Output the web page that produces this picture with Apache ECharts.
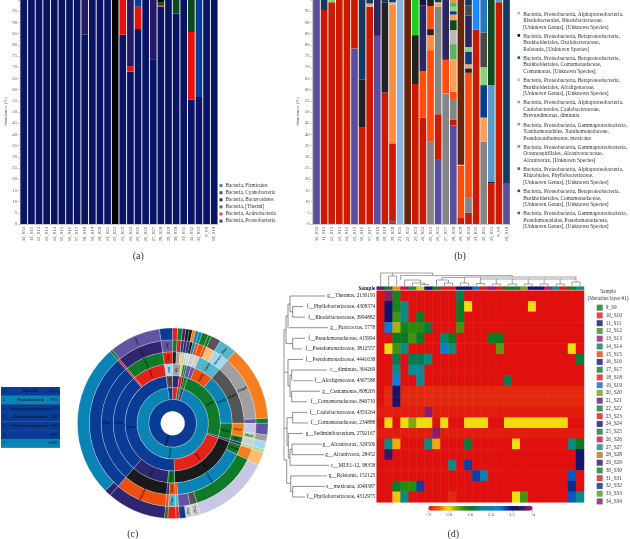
<!DOCTYPE html>
<html><head><meta charset="utf-8">
<style>html,body{margin:0;padding:0;background:#fff}#c{width:630px;height:539px}</style>
<script src="https://cdn.jsdelivr.net/npm/echarts@6/dist/echarts.min.js"></script>
</head><body><div id="c"></div>
<script>
const SERIF='"Liberation Serif",serif';
const samples=['34_S34','11_S11','12_S12','13_S13','14_S14','15_S15','16_S16','17_S17','18_S18','19_S19','20_S20','21_S21','22_S22','23_S23','24_S24','25_S25','26_S26','27_S27','28_S28','29_S29','30_S30','31_S31','32_S32','33_S33','9_S9','10_S10'];

// (a) phylum colours and stacks, bottom to top
const colorsA={p:'#0a1464',a:'#e8100c',t:'#0f4a1c',b:'#000000',c:'#241a66',f:'#0a3e96'};
const legendA=[['Bacteria, Firmicutes','#1a5fb4'],['Bacteria, Cyanobacteria','#1c1c70'],['Bacteria, Bacteroidetes','#000000'],['Bacteria, [Thermi]','#1a5c1a'],['Bacteria, Actinobacteria','#e8100c'],['Bacteria, Proteobacteria','#0a1464']];
const stacksA=[[['p',100]],[['p',100]],[['p',100]],[['p',100]],[['p',100]],[['p',100]],[['p',100]],[['p',100]],[['p',84.5],['c',15.5]],[['p',100]],[['p',100]],[['p',100]],[['b',100]],[['p',84.5],['a',15.5]],[['p',68],['a',2.5],['c',29.5]],[['p',87],['a',10],['f',3]],[['p',100]],[['p',73.5],['c',26.5]],[['p',97],['a',0.6],['t',1.4],['b',1]],[['p',100]],[['p',94],['t',6]],[['p',100]],[['p',55.5],['a',30.2],['t',14.3]],[['p',56.7],['f',43.3]],[['p',100]],[['p',100]]];

// (b) stacks, bottom to top
const colorsB={pu:'#5a4e9e',re:'#cc1a00',gy:'#858585',ta:'#f9a05a',ox:'#ff4d0d',or:'#ff8c3c',nv:'#163a5f',bk:'#222222',dp:'#2e2660',br:'#6b2408',lb:'#8fb4e0',gn:'#22cc22',bl:'#0a3c8c',bb:'#1a8cff',sb:'#2a78c0',lg:'#8fd080',dg:'#484848',sk:'#5a9ac8',fg:'#0f4a1c',lgy:'#b8b8b8',mg:'#5fb060',kk:'#14143c'};
const stacksB=[
[['pu',100]],[['re',95.5],['nv',4.5]],[['pu',.5],['re',98.5],['lg',1]],[['re',100]],[['re',100]],[['pu',78.4],['re',21.6]],
[['re',43],['bk',21.4],['nv',35.6]],[['re',97],['ta',1],['gy',.5],['nv',1.5]],[['pu',84],['dp',16]],[['re',58.7],['bk',40.3],['nv',1]],
[['pu',1],['re',35],['or',62],['lgy',1],['nv',1]],[['lb',100]],[['br',100]],[['re',62.5],['bk',21.8],['gn',15.7]],[['re',47.5],['ox',20.8],['dp',29.2],['kk',2.5]],
[['gy',36.7],['ox',40.9],['or',6.7],['bk',2.7],['ox',10.3],['bk',2.7]],[['pu',29],['re',20],['gy',48],['ta',1.5],['lg',.5],['nv',1]],[['gy',58.3],['ox',15],['dp',26.7]],
[['pu',44],['re',2.5],['gy',9.3],['ox',3.2],['ta',14.5],['mg',6.8],['lgy',6.3],['fg',4.4],['ta',2.5],['bl',1.5],['lg',2],['mg',2],['or',1]],
[['re',3],['ox',23],['lg',.5],['br',73.5]],[['re',5],['gy',7],['ox',55.5],['bk',2],['ta',1.8],['bl',5.7],['lg',2],['dp',14],['dg',4.5],['nv',2.5]],
[['re',86.7],['bb',13.3]],[['gy',36.7],['ta',10.8],['bl',14.5],['lg',8],['dg',15.5],['sb',14.5]],[['re',18],['bk',1],['sk',43],['fg',38]],[['re',99],['sk',1]],[['pu',18],['nv',82]]];
const legendB=[
['#f4a460','Bacteria, Proteobacteria, Alphaproteobacteria,\nRhodobacterales, Rhodobacteraceae,\n[Unknown Genus], [Unknown Species]'],
['#111111','Bacteria, Proteobacteria, Betaproteobacteria,\nBurkholderiales, Oxalobacteraceae,\nRalstonia, [Unknown Species]'],
['#0a7a28','Bacteria, Proteobacteria, Betaproteobacteria,\nBurkholderiales, Comamonadaceae,\nComamonas, [Unknown Species]'],
['#bbbbbb','Bacteria, Proteobacteria, Betaproteobacteria,\nBurkholderiales, Alcaligenaceae,\n[Unknown Genus], [Unknown Species]'],
['#7ac070','Bacteria, Proteobacteria, Alphaproteobacteria,\nCaulobacterales, Caulobacteraceae,\nBrevundimonas, diminuta'],
['#f58020','Bacteria, Proteobacteria, Gammaproteobacteria,\nXanthomonadales, Xanthomonadaceae,\nPseudoxanthomonas, mexicana'],
['#ff6a20','Bacteria, Proteobacteria, Gammaproteobacteria,\nOceanospirillales, Alcanivoracaceae,\nAlcanivorax, [Unknown Species]'],
['#666666','Bacteria, Proteobacteria, Alphaproteobacteria,\nRhizobiales, Phyllobacteriaceae,\n[Unknown Genus], [Unknown Species]'],
['#e01010','Bacteria, Proteobacteria, Betaproteobacteria,\nBurkholderiales, Comamonadaceae,\n[Unknown Genus], [Unknown Species]'],
['#5a4e9e','Bacteria, Proteobacteria, Gammaproteobacteria,\nPseudomonadales, Pseudomonadaceae,\n[Unknown Genus], [Unknown Species]']];

// (c) sunburst colours; leaf rows: degrees, then ring 2..7 as colour:label
const colorsC={N:'#0a3c96',T:'#0a84b4',G:'#0f7a28',R:'#e2231a',K:'#1a1a1a',P:'#2e2670',V:'#6353a3',O:'#f57f1e',A:'#ffbf6e',X:'#ee4e10',D:'#555555',S:'#a0a0a0',L:'#a3d9f0',C:'#55b5cc',W:'#c8c8e6',Y:'#d0d0d0',E:'#a8dca0'};
const PR='T:Proteo',AL='G:Alpha',BE='R:Beta',GA='N:Gam',PS='N:Pseu';
const wedges=[
[4,PR,AL,'V','Y','X','G'],[2,PR,AL,'X:Caulo','C:Caulo','X','G'],[6,PR,AL,'X:Caulo','C:Caulo','A','D'],[11,PR,AL,'X:Caulo','C:Caulo','L:Brevun','C:Brev'],
[46,PR,AL,'T:Rhodo','D:Rhodo','S:Phygel','O'],[3,PR,AL,'T:Rhodo','D:Rhodo','V','G'],[7,PR,AL,'G:Rhizo','O:Phyll','W','V'],[4,PR,AL,'G:Rhizo','O:Phyll','E:Meso','S'],
[3,PR,AL,'G:Rhizo','G:Bre','Y','L'],[2,PR,AL,'G:Rhizo','G:Bre','Y','L'],[2,PR,'P','P','P','E','E'],
[8,PR,BE,'K:Burk','G:Comam','O','A'],[47,PR,BE,'K:Burk','T:Comam','G','W'],[5,PR,BE,'K:Burk','T:Comam','D','Y:Cupr'],[4,PR,BE,'K:Burk','T:Comam','V','Y:Cupr'],[4,PR,BE,'K:Burk','T:Comam','V','N'],[2,PR,BE,'K:Burk','X:Oxal','C:Pseu','R'],
[5,PR,GA,'G:Ocean','X:Oxal','C:Pseu','R'],[2,PR,GA,'G:Ocean','P','X','G'],[36,PR,GA,'P:Xant','K:Xant','X:Pseudox','P'],[4,PR,GA,PS,PS,'N','P'],[94,PR,GA,PS,PS,'N','T'],
[1.5,PR,GA,'R','R','R','G'],[31.5,PR,GA,'R:Pseu','G:Gamma','P:Xant','V:Pseu'],[8,'N','D:Desu','L:Xan','R:Gry','V:Xan','N'],
[3,'R','P','S:Alc','K','G','R'],[3,'R','P','S:Alc','S','R','G'],[2,'R','P','S:Alc','A','N','P'],[2,'G','R','A','E','P','K'],[2,'G','R','G','Y','P','K'],[2,'K','K','G','Y','K','O'],[2,'P','G','V','Y','T','T'],[2,'P','G','V','Y','X','T']];
const lineageRows=[['1','Bacteria','100%'],['2','Proteobacteria','91%'],['3','Gammaproteobacteria','57%'],['4','Pseudomonadales','38%'],['5','Pseudomonadaceae','38%'],['6','','38%'],['7','','100%']];
const lineageColors=['#0a3c96','#0a84b4','#0a3c96','#0a3c96','#0a3c96','#0a3c96','#0a84b4'];

// (d) heat map
const heatRowLabels=['g__Thermus, 2130193','f__Phyllobacteriaceae, 4308374','f__Rhodobacteraceae, 3994882','g__Paracoccus, 5778','f__Pseudomonadaceae, 415994','f__Pseudomonadaceae, 3812557','f__Pseudomonadaceae, 4441638','c__diminuta, 364269','f__Alcaligenaceae, 4367588','g__Comamonas, 808203','f__Comamonadaceae, 846710','f__Caulobacteraceae, 4353264','f__Comamonadaceae, 234888','g__Sediminibacterium, 2792167','g__Alcanivorax, 329506','g__Alcanivorax, 28452','c__MLE1-12, 98358','g__Ralstonia, 152125','s__mexicana, 1049387','f__Phyllobacteriaceae, 4312975'];
const heatValues=[
[0,3.9,1.5,0,0,0,0,0,0,0,1.8,0,0,0,0,0,0,0,0,0,0,0,0,0,0,0],
[0,3.2,1.5,2,0,0,0,0,0,0,1.6,.8,0,0,0,0,0,0,0,.8,0,0,0,0,0,0],
[0,3.2,1.3,2,0,1.6,0,0,0,0,1.6,0,0,0,0,0,0,0,0,0,0,0,0,0,0,0],
[0,2.7,1,1.5,1.4,1.4,1.7,0,0,0,1.3,0,0,0,0,0,0,0,0,0,0,0,0,0,0,0],
[0,0,1.6,1.6,1.3,1.6,0,0,1.9,1.6,0,0,0,0,1.6,1.6,0,0,0,0,0,0,0,0,0,0],
[0,.8,1.3,2,0,0,0,0,2.5,2,0,0,0,0,0,1.2,0,0,0,0,0,0,0,0,.8,0],
[0,0,1.8,0,1.8,1.8,2,0,0,0,0,0,0,0,0,0,0,0,0,0,0,0,0,0,0,1.7],
[0,0,2.1,0,2.1,2.2,0,0,0,0,0,0,0,0,0,0,0,0,0,0,0,0,0,0,0,0],
[0,0,2.6,0,0,2.2,0,0,0,0,0,0,0,0,0,0,1.8,0,0,0,0,0,0,0,0,0],
[0,.1,3.3,.1,.1,.1,.1,.1,.1,.1,.1,.1,.1,.1,.1,.1,.1,.1,.1,.1,.1,.1,.1,.1,.1,.1],
[0,.1,3.3,.1,.1,.1,.1,.1,.1,.1,.1,.1,.1,.1,.1,.1,.1,.1,.1,.1,.1,.1,.1,.1,.1,.1],
[.05,.05,.05,.05,.05,.05,3.9,.05,.05,.05,.05,.05,.05,.05,.05,.05,.05,.05,.05,.05,.05,.05,.05,.05,.05,.05],
[0,.8,0,.8,1.1,.8,.8,0,.8,0,0,.8,.8,.8,0,0,.8,.8,.8,.8,.8,.8,.8,.8,0,0],
[.05,.05,.05,.05,.05,.05,.05,3.9,.05,.05,.05,.05,.05,.05,.05,.05,.05,.05,.05,.05,.05,.05,.05,.05,.05,.05],
[0,2,.6,0,0,0,2,.6,0,0,0,1.7,0,0,0,0,0,.8,0,0,0,0,0,0,2,1.6],
[0,3.6,0,0,0,0,0,0,0,0,0,0,0,0,0,0,0,0,0,0,0,0,0,0,0,3.3],
[0,0,0,0,0,0,0,0,0,2,0,3,0,0,0,0,0,0,0,0,0,0,0,0,0,3.3],
[0,0,0,0,0,0,0,0,0,0,0,0,3,2.4,0,0,0,0,0,0,0,0,0,0,2.9,0],
[0,0,1.6,1.4,1.4,3,0,0,0,0,0,0,0,0,0,0,0,0,0,0,0,0,0,0,3.1,0],
[0,0,.7,2,0,0,0,0,0,.1,0,0,0,0,0,0,0,.8,1.3,0,0,0,0,0,2.9,2.1]];
const heatColors=['#e0100f','#e8400c','#ee5a08','#f5a80a','#f2dc0c','#a8b010','#5e9a10','#2a8a10','#0a7a24','#0a7a50','#0a8a80','#0a8a98','#0a80b0','#0a80e0','#0a70d8','#0a40a0','#10146a','#201468','#3a1466','#7a1a68','#a0206a'];
const stripColors=['#551a78','#0f7a28','#f08a10','#d0104f','#0f8a40','#d8d010','#14146e','#0f7a28','#d91a1a','#d91a1a','#14146e','#14146e','#1068c0','#d91a1a','#8a1a78','#d91a1a','#0f7a28','#0f7a28','#7a9a10','#14146e','#14146e','#b01a70','#0f8a80','#d91a1a','#0f7a28','#0f8a80'];
const legendD=[['9_S9','#0f7a28'],['10_S10','#d91a1a'],['11_S11','#14146e'],['12_S12','#3b8f10'],['13_S13','#9a1a70'],['14_S14','#0d7a5f'],['15_S15','#d84a10'],['16_S16','#14146e'],['17_S17','#0f7a28'],['18_S18','#d91a1a'],['19_S19','#1068c0'],['20_S20','#7a9a10'],['21_S21','#551a78'],['22_S22','#0f7a28'],['23_S23','#d91a1a'],['24_S24','#14146e'],['25_S25','#0f7a28'],['26_S26','#d0104f'],['27_S27','#0f8a80'],['28_S28','#b8700a'],['29_S29','#2a1060'],['30_S30','#0f7a28'],['31_S31','#d91a1a'],['32_S32','#0a2880'],['33_S33','#4a9a10'],['34_S34','#7a1a70']];
const colorbarTicks={0:'<0',4:'>4'};
// row tree: [dist1,row1,dist2,row2,heavy]
const rowTree=[[20,.5,55,.5],[22.7,1.5,33,1.5],[22.7,2.5,35,2.5],[22.7,1.5,22.7,2.5],[20,2,22.7,2],[20,.5,20,2],[18,1.25,20,1.25],[19,3.5,58,3.5],[18,1.25,18,3.5],[16,2.4,18,2.4],
[22.7,4.5,35,4.5],[22.7,5.5,32,5.5],[22.7,4.5,22.7,5.5],[16,5,22.7,5],[16,2.4,16,5],[14,3.7,16,3.7],[14,3.7,14,6.4],
[18,6.5,33,6.5],[21.7,7.5,57,7.5],[24,8.5,43,8.5,1],[21.7,7.5,21.7,8.5],[21.7,9.5,50,9.5],[21.7,10.5,37,10.5],[21.7,9.5,21.7,10.5],[20,8,21.7,8],[20,10,21.7,10],[20,8,20,10],[18,9,20,9],[18,6.5,18,9],[14,7.7,18,7.7],
[22.7,11.5,37,11.5],[22.7,12.5,38,12.5],[22.7,11.5,22.7,12.5],[17,12,22.7,12],[18.3,13.5,33,13.5],[22,14.5,52,14.5],[22,15.5,54,15.5],[22,14.5,22,15.5],[20,15,22,15],[20,16.5,59,16.5],[20,15,20,16.5],[18.3,15.8,20,15.8],[18.3,13.5,18.3,15.8],[17,14.6,18.3,14.6],[17,12,17,14.6],[14,13,17,13],[14,6.4,14,16,1],
[20.7,17.5,57,17.5,1],[22.7,18.5,55,18.5],[22.7,19.5,35,19.5],[22.7,18.5,22.7,19.5],[20.7,19,22.7,19],[20.7,17.5,20.7,19],[16.7,18.2,20.7,18.2],[16.7,16,16.7,18.2],[14,16,16.7,16]];
// column tree: [col1,height1,col2,height2,heavy]
const colTree=[[.5,3,7,3],[.5,3,.5,16,1],[2,3,2,6],[1.5,6,2.5,6],[1.5,6,1.5,16],[2.5,6,2.5,16],[7,3,7,5.5],[3,5.5,17,5.5,1],[3,5.5,3,10],[3.5,10,5.5,10],[3.5,10,3.5,16],[5.5,10,5.5,13],[4.5,13,6,13],[4.5,13,4.5,16],[6,13,6,14.5],[5.5,14.5,6.5,14.5],[5.5,14.5,5.5,16],[6.5,14.5,6.5,16],
[17,5.5,17,7],[7.5,10,9,10],[7.5,10,7.5,16],[9,10,9,13],[8.5,13,9.5,13],[8.5,13,8.5,16],[9.5,13,9.5,16],[8.2,7.5,8.2,10],[8.2,7.5,11,7.5],[11,7,25,7],[11,7,11,13],[10.5,13,11.5,13],[10.5,13,10.5,16],[11.5,13,11.5,16],
[13,9,25,9],[13,7,13,13.5],[12.5,13.5,13.5,13.5],[12.5,13.5,12.5,16],[13.5,13.5,13.5,16],[15,9,15,14],[14.5,14,15.5,14],[14.5,14,14.5,16],[15.5,14,15.5,16],[17,9,17,14],[16.5,14,17.5,14],[16.5,14,16.5,16],[17.5,14,17.5,16],[19,9,19,14],[18.5,14,19.5,14],[18.5,14,18.5,16],[19.5,14,19.5,16],[21,9,21,14],[20.5,14,21.5,14],[20.5,14,20.5,16],[21.5,14,21.5,16],[23,9,23,14],[22.5,14,23.5,14],[22.5,14,22.5,16],[23.5,14,23.5,16],[25,7,25,12],[24.5,12,25.5,12],[24.5,12,24.5,16],[25.5,12,25.5,16]];

const chart=echarts.init(document.getElementById('c'),null,{renderer:'canvas'});
const series=[];

function stackSeries(stacks,colors,gridIdx,stack){
  const layers=Math.max(...stacks.map(s=>s.length));
  for(let k=0;k<layers;k++){
    series.push({type:'bar',stack,xAxisIndex:gridIdx,yAxisIndex:gridIdx,barCategoryGap:'12%',silent:true,
      data:stacks.map(s=>s[k]?{value:s[k][1],itemStyle:{color:colors[s[k][0]]}}:0)});
  }
}
stackSeries(stacksA,colorsA,0,'a');
stackSeries(stacksB,colorsB,1,'b');

// sunburst tree from the leaf rows
const wedgeStyle=c=>({color:c,borderColor:'rgba(255,255,255,0.75)',borderWidth:.3});
const root={name:'Bacteria',itemStyle:wedgeStyle(colorsC.N),children:[]};
wedges.forEach(w=>{
  let node=root;
  for(let d=1;d<=6;d++){
    const parts=w[d].split(':'),key=w[d];
    let kids=node.children,last=kids[kids.length-1];
    if(!last||last._k!==key){
      last={_k:key,name:parts[1]||'',itemStyle:wedgeStyle(colorsC[parts[0]])};
      if(d<6)last.children=[];else last.value=w[0];
      kids.push(last);
    }else if(d===6){last.value+=w[0];}
    node=last;
  }
});
series.push({type:'sunburst',center:[172.7,423.3],radius:[12,95.3],startAngle:72,sort:null,nodeClick:false,silent:true,
  data:[root],
  label:{show:true,fontSize:3.3,color:'#000',rotate:'radial',minAngle:3,fontFamily:'"Liberation Sans",sans-serif'},
  emphasis:{disabled:true}});

// heat map
const heatIndex=series.length;
const heatData=[];
heatValues.forEach((row,r)=>row.forEach((v,c)=>heatData.push([c,r,v])));
series.push({type:'heatmap',xAxisIndex:2,yAxisIndex:2,data:heatData,silent:true,progressive:0,emphasis:{disabled:true}});
series.push({type:'heatmap',xAxisIndex:3,yAxisIndex:3,silent:true,progressive:0,emphasis:{disabled:true},
  data:stripColors.map((c,i)=>({value:[i,0,1],itemStyle:{color:c}}))});

// dendrograms
function treeSeries(segs,gridIdx,lw){
  series.push({type:'custom',xAxisIndex:gridIdx,yAxisIndex:gridIdx,silent:true,clip:false,
    data:segs.map(s=>[s[0],s[1],s[2],s[3],s[4]||0]),
    renderItem(p,api){
      const a=api.coord([api.value(0),api.value(1)]),b=api.coord([api.value(2),api.value(3)]),h=api.value(4);
      return {type:'line',shape:{x1:a[0],y1:a[1],x2:b[0],y2:b[1]},style:{stroke:h?'#aaaaaa':'#444444',lineWidth:h?1.2:lw}};
    }});
}
treeSeries(rowTree,4,.6);
treeSeries(colTree,5,.5);

// lineage table drawn as full-width bars
const rowNames=lineageRows.map(r=>r[1]+r[0]);
[[0,'insideLeft'],[1,'inside'],[2,'insideRight']].forEach(([col,pos],i)=>{
  series.push({type:'bar',xAxisIndex:6,yAxisIndex:6,barWidth:'95%',barGap:'-100%',silent:true,
    data:lineageRows.map((r,j)=>({value:1,itemStyle:{color:lineageColors[j]}})),
    label:{show:true,position:pos,distance:2,fontSize:3.8,color:'#071a3c',fontWeight:i===1?'bold':'normal',fontFamily:'"Liberation Sans",sans-serif',
      formatter:p=>lineageRows[p.dataIndex][col]}});
});

// legend carriers
[...legendA,...legendD].forEach(([n,c])=>series.push({type:'scatter',name:n,data:[],itemStyle:{color:c},xAxisIndex:0,yAxisIndex:0}));

function stackedAxes(left){
  return {
    x:{type:'category',gridIndex:left,data:samples,axisTick:{show:false},axisLine:{lineStyle:{color:'#999',width:.5}},
      axisLabel:{interval:0,rotate:90,fontSize:4.7,color:'#555',margin:3,fontFamily:SERIF}},
    y:{type:'value',gridIndex:left,min:0,max:100,interval:5,name:'Abundance (%)',nameLocation:'middle',nameGap:12,
      nameTextStyle:{fontSize:4.7,color:'#666',fontFamily:SERIF},splitLine:{show:false},
      axisLine:{show:true,lineStyle:{color:'#999',width:.5}},axisTick:{show:true,length:2,lineStyle:{width:.5,color:'#888'}},
      minorTick:{show:true,splitNumber:5,length:1,lineStyle:{width:.4,color:'#aaa'}},
      axisLabel:{fontSize:4.7,color:'#555',margin:3,fontFamily:SERIF,formatter:v=>v===100?'':v}}
  };
}
const A=stackedAxes(0),B=stackedAxes(1);
const H={show:false};
const hiddenX=(g,opt)=>Object.assign({gridIndex:g,axisLine:H,axisTick:H,axisLabel:H,splitLine:H},opt);

const gfx=[];
legendB.forEach(([c,t],i)=>{
  const y=10.9+i*22.2;
  gfx.push({type:'rect',left:517.5,top:y+1,shape:{width:2.6,height:2.6},style:{fill:c}});
  gfx.push({type:'text',left:523.3,top:y,style:{text:t,font:'5.4px '+SERIF,fill:'#333',lineHeight:6.5}});
});
[['(a)',138.3,256.7],['(b)',460,256.7],['(c)',132.7,534],['(d)',453.3,534]].forEach(([t,x,y])=>
  gfx.push({type:'text',x,y,style:{text:t,font:'10px '+SERIF,fill:'#333',textAlign:'center',textVerticalAlign:'middle'}}));
gfx.push({type:'text',x:608,y:295,style:{text:'Sample\n(Metadata layer #1)',font:'5.2px '+SERIF,fill:'#333',textAlign:'center',textVerticalAlign:'middle',lineHeight:6.5}});

chart.setOption({
  animation:false,
  grid:[
    {left:20,top:0,width:198,height:224},
    {left:312.7,top:0,width:197.6,height:224},
    {left:376.7,top:290.7,width:207.3,height:211.6},
    {left:376.7,top:286.7,width:207.3,height:2.9},
    {left:270,top:290.7,width:105,height:211.6},
    {left:376.7,top:270,width:207.3,height:16.7},
    {left:1,top:387,width:59,height:60.7},
    {left:428.3,top:510.7,width:104.4,height:0}
  ],
  xAxis:[A.x,B.x,
    hiddenX(2,{type:'category',data:samples}),
    hiddenX(3,{type:'category',data:samples}),
    hiddenX(4,{type:'value',min:0,max:105}),
    hiddenX(5,{type:'value',min:0,max:26}),
    hiddenX(6,{type:'value',min:0,max:1}),
    {gridIndex:7,type:'value',min:0,max:4,interval:.8,axisLine:H,splitLine:H,axisTick:{show:true,length:2,lineStyle:{color:'#888',width:.5}},
      axisLabel:{fontSize:4.7,color:'#555',margin:2,fontFamily:SERIF,formatter:v=>colorbarTicks[v]||v.toFixed(1)}}
  ],
  yAxis:[A.y,B.y,
    {gridIndex:2,type:'category',inverse:true,data:heatRowLabels,axisLine:H,axisTick:H,splitLine:H,axisLabel:{interval:0,fontSize:5.3,color:'#222',margin:1.5,fontFamily:SERIF}},
    {gridIndex:3,type:'category',data:['Sample'],axisLine:H,axisTick:H,splitLine:H,axisLabel:{fontSize:5.3,color:'#222',margin:1.5,fontWeight:'bold',fontFamily:SERIF}},
    hiddenX(4,{type:'value',min:0,max:20,inverse:true}),
    hiddenX(5,{type:'value',min:0,max:16.7,inverse:true}),
    hiddenX(6,{type:'category',inverse:true,data:rowNames}),
    hiddenX(7,{type:'value',min:0,max:1})
  ],
  visualMap:{type:'continuous',seriesIndex:heatIndex,min:0,max:4,orient:'horizontal',left:428.3,top:506,itemWidth:4.7,itemHeight:104.4,padding:0,calculable:false,showLabel:false,text:null,realtime:false,hoverLink:false,inRange:{color:heatColors}},
  legend:[
    {data:legendA.map(l=>l[0]),orient:'vertical',left:219.5,top:183,padding:0,itemWidth:3,itemHeight:3,itemGap:1.9,icon:'rect',selectedMode:false,textStyle:{fontSize:5.2,color:'#333',fontFamily:SERIF,lineHeight:5.2,padding:[0,0,0,-2]}},
    {data:legendD.map(l=>l[0]),orient:'vertical',left:596.7,top:304.7,padding:0,itemWidth:6,itemHeight:6,itemGap:1.75,icon:'rect',selectedMode:false,textStyle:{fontSize:5.3,color:'#333',fontFamily:SERIF,padding:[0,0,0,-2]}}
  ],
  graphic:gfx,
  series
});
</script></body></html>
